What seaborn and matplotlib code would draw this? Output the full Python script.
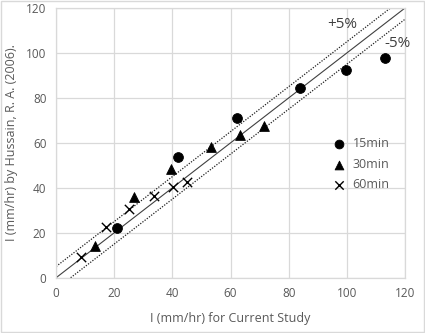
import numpy as np
import pandas as pd
import seaborn as sns
import matplotlib.pyplot as plt

# Data
x_15 = [21.0, 42.0, 62.1, 83.9, 99.7, 113.1]
y_15 = [22.3, 53.8, 71.0, 84.6, 92.4, 97.8]
x_30 = [13.4, 26.8, 39.4, 53.2, 63.3, 71.5]
y_30 = [14.3, 36.0, 48.4, 58.0, 63.6, 67.5]
x_60 = [8.5, 17.1, 24.9, 33.8, 40.1, 44.9]
y_60 = [9.1, 22.7, 30.4, 36.5, 40.2, 42.5]
durations = ["15min", "30min", "60min"]

ref_x = [0, 120]
plus_x = [0, 115]
minus_x = [5, 120]
offset = 5

sns.set_style("whitegrid")
plt.rcParams["font.family"] = ["Open Sans", "DejaVu Sans"]

fig = plt.figure(figsize=(4.25, 3.33), dpi=100)
ax = fig.add_axes([0.132, 0.166, 0.821, 0.81])

# 1:1 line and +/-5 bands
ax.plot(ref_x, ref_x, color="#404040", lw=0.8, zorder=2)
ax.plot(plus_x, [v + offset for v in plus_x], color="#202020", lw=0.9, ls=(0, (1, 1.2)), zorder=2)
ax.plot(minus_x, [v - offset for v in minus_x], color="#202020", lw=0.9, ls=(0, (1, 1.2)), zorder=2)

sns.scatterplot(x=x_15, y=y_15, marker="o", color="black", s=50, edgecolor="black",
                label=durations[0], ax=ax, zorder=3)
sns.scatterplot(x=x_30, y=y_30, marker="^", color="black", s=50, edgecolor="black",
                label=durations[1], ax=ax, zorder=3)
sns.scatterplot(x=x_60, y=y_60, marker="x", color="black", s=45, linewidth=1.0,
                label=durations[2], ax=ax, zorder=3)

ax.set_xlim(0, 120)
ax.set_ylim(0, 120)
ax.set_xticks(range(0, 121, 20))
ax.set_yticks(range(0, 121, 20))
ax.grid(color="#d9d9d9", lw=0.9)
for s in ax.spines.values():
    s.set_color("#d9d9d9")
    s.set_linewidth(0.9)
ax.tick_params(colors="#595959", labelsize=8.5, length=0, pad=7)

ax.set_xlabel("I (mm/hr) for Current Study", color="#595959", fontsize=9, labelpad=8)
ax.set_ylabel("I (mm/hr) by Hussain, R. A. (2006).", color="#595959", fontsize=9, labelpad=6)

ax.text(98.5, 112.5, "+5%", fontsize=11, color="#404040", ha="center", va="center")
ax.text(117.4, 104.2, "-5%", fontsize=11, color="#404040", ha="center", va="center")

leg = ax.legend(loc="center left", bbox_to_anchor=(0.76, 0.42), frameon=False, fontsize=9,
                handletextpad=0.1, labelspacing=0.6, borderaxespad=0, markerscale=0.9)
for t in leg.get_texts():
    t.set_color("#595959")

fig.patches.append(plt.Rectangle((0.002, 0.003), 0.995, 0.994, transform=fig.transFigure,
                                 fill=False, edgecolor="#d9d9d9", lw=1))
fig.savefig("out.png", dpi=100)
